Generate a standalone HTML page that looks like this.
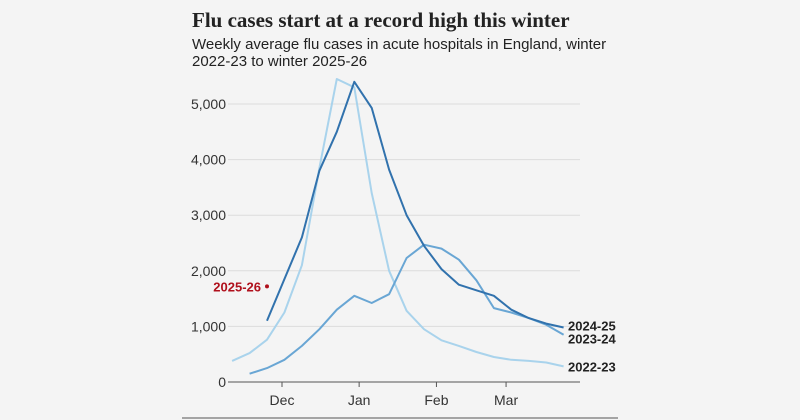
<!DOCTYPE html>
<html><head><meta charset="utf-8"><style>
body{margin:0;background:#f4f4f4;}
svg{display:block}
</style></head><body>
<svg width="800" height="420" viewBox="0 0 800 420">
<rect x="0" y="0" width="800" height="420" fill="#f4f4f4"/>
<text x="192" y="27" font-family="Liberation Serif, serif" font-size="21" font-weight="bold" fill="#222">Flu cases start at a record high this winter</text>
<text x="192" y="49" font-family="Liberation Sans, sans-serif" font-size="15" fill="#222">Weekly average flu cases in acute hospitals in England, winter</text>
<text x="192" y="66" font-family="Liberation Sans, sans-serif" font-size="15" fill="#222">2022-23 to winter 2025-26</text>
<g id="grid"></g><g id="axes"></g><g id="lines"></g>
<line x1="182" y1="418" x2="618" y2="418" stroke="#555" stroke-width="1"/>
</svg>
<script>
const yTicks=[0,1000,2000,3000,4000,5000];
const yTickLabels=["0","1,000","2,000","3,000","4,000","5,000"];
const months=["Dec","Jan","Feb","Mar"];
const monthWeekPos=[0.86,5.28,9.71,13.7];
const startWeek2022=-2, startWeek2023=-1, startWeek2024=0;
const s2022=[380,520,760,1250,2100,3850,5450,5300,3400,2000,1280,950,750,650,540,450,400,380,350,280];
const s2023=[150,250,400,650,950,1300,1550,1420,1580,2230,2470,2400,2200,1830,1330,1250,1150,1030,850];
const s2024=[1100,1850,2600,3800,4500,5400,4930,3820,3000,2450,2030,1750,1650,1550,1300,1150,1050,980];
const current2025=[1720];
const currentWeek2025=[0];
const NS="http://www.w3.org/2000/svg";
const X=w=>267+17.45*w;
const Y=v=>382-v*0.0556;
function mk(t,a,p){const e=document.createElementNS(NS,t);for(const k in a)e.setAttribute(k,a[k]);p.appendChild(e);return e;}
const grid=document.getElementById('grid'),axes=document.getElementById('axes'),lines=document.getElementById('lines');
yTicks.forEach((v,i)=>{
 if(v>0){const l=mk('line',{x1:228,x2:580,y1:Y(v),y2:Y(v),stroke:'#dcdcdc','stroke-width':1},grid);
 
 }
 const t=mk('text',{x:226,y:Y(v)+5,'text-anchor':'end','font-family':'Liberation Sans, sans-serif','font-size':14,fill:'#333'},axes);
 t.textContent=yTickLabels[i];
 
 
});
const ax=mk('line',{x1:228,x2:580,y1:382,y2:382,stroke:'#555','stroke-width':1},axes);


months.forEach((m,i)=>{
 const x=X(monthWeekPos[i]);
 const tk=mk('line',{x1:x,x2:x,y1:382,y2:387,stroke:'#555'},axes);
 
 
 const t=mk('text',{x:x,y:405,'text-anchor':'middle','font-family':'Liberation Sans, sans-serif','font-size':14,fill:'#333'},axes);
 t.textContent=m;
 
 
});
function series(data,start,color,name,label,dy){
 const pts=data.map((v,i)=>X(start+i).toFixed(1)+','+Y(v).toFixed(1)).join(' ');
 const p=mk('polyline',{points:pts,fill:'none',stroke:color,'stroke-width':2,'stroke-linejoin':'round'},lines);
 
 
 const last=data[data.length-1];
 const t=mk('text',{x:568,y:Y(last)+5+dy,'font-family':'Liberation Sans, sans-serif','font-size':13,'font-weight':'bold',fill:'#222'},lines);
 t.textContent=label;
 
 
}
series(s2022,startWeek2022,'#a9d3ec','2022-23','2022-23',0);
series(s2023,startWeek2023,'#69a6d4','2023-24','2023-24',4);
series(s2024,startWeek2024,'#3172ad','2024-25','2024-25',-2);
const cx=X(currentWeek2025[0]),cy=Y(current2025[0]);
const dot=mk('circle',{cx:cx,cy:cy,r:2,fill:'#b0101c'},lines);


const ct=mk('text',{x:cx-6,y:cy+5,'text-anchor':'end','font-family':'Liberation Sans, sans-serif','font-size':13,'font-weight':'bold',fill:'#b0101c'},lines);
ct.textContent='2025-26';


</script>
</body></html>
